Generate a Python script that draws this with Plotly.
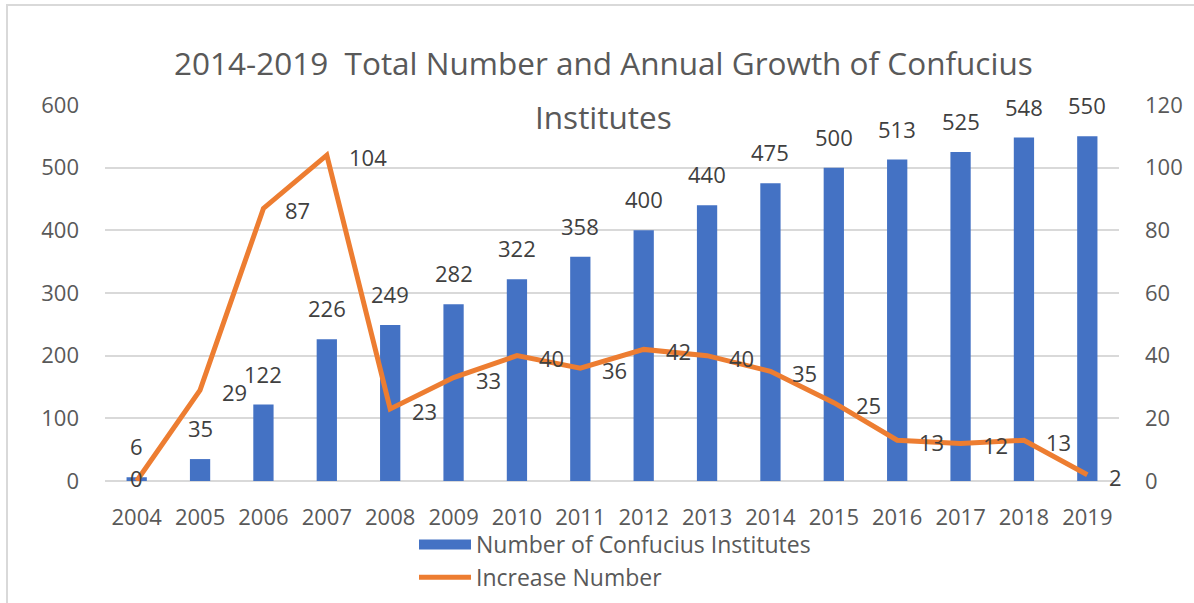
import plotly.graph_objects as go

years = ["2004", "2005", "2006", "2007", "2008", "2009", "2010", "2011",
         "2012", "2013", "2014", "2015", "2016", "2017", "2018", "2019"]
institutes = [6, 35, 122, 226, 249, 282, 322, 358, 400, 440, 475, 500, 513, 525, 548, 550]
increase = [0, 29, 87, 104, 23, 33, 40, 36, 42, 40, 35, 25, 13, 12, 13, 2]

title_line1 = "2014-2019\u00a0 Total Number and Annual Growth of Confucius"
title_line2 = "Institutes"
bar_name = "Number of Confucius Institutes"
line_name = "Increase Number"

BLUE = "#4472C4"
ORANGE = "#ED7D31"
TXT = "#595959"
LBL = "#404040"
FONT = "Open Sans"
FS = 22

W, H = 1194, 603
L, R, T, B = 105, 1194 - 1119, 105, 603 - 481
pw, ph = W - L - R, H - T - B

def px_x(p):
    return (p - L) / pw

def px_y(p):
    return (H - B - p) / ph

idx = list(range(len(years)))

fig = go.Figure()
# legend proxy for the bar series (wide rectangle symbol)
fig.add_trace(go.Scatter(
    x=[None], y=[None], name=bar_name, mode="lines",
    line=dict(color=BLUE, width=14), yaxis="y", hoverinfo="skip",
))
fig.add_trace(go.Bar(
    x=idx, y=institutes, name=bar_name, showlegend=False,
    marker=dict(color=BLUE, line=dict(width=0)), width=0.32,
    yaxis="y",
))
fig.add_trace(go.Scatter(
    x=idx, y=increase, name=line_name, mode="lines",
    line=dict(color=ORANGE, width=5), yaxis="y2",
))

annotations = []
for i, v in zip(idx, institutes):
    annotations.append(dict(
        x=i, y=v, xref="x", yref="y", text=str(v), showarrow=False,
        xanchor="center", yanchor="bottom", yshift=14,
        font=dict(family=FONT, size=FS, color=LBL),
    ))
for i, v in zip(idx, increase):
    if i == 0:
        annotations.append(dict(
            x=i, y=v, xref="x", yref="y2", text=str(v), showarrow=False,
            xanchor="center", yanchor="middle", yshift=3,
            font=dict(family=FONT, size=FS, color=LBL),
        ))
    else:
        annotations.append(dict(
            x=i, y=v, xref="x", yref="y2", text=str(v), showarrow=False,
            xanchor="left", yanchor="middle", xshift=20, yshift=-2,
            font=dict(family=FONT, size=FS, color=LBL),
        ))

annotations.append(dict(
    x=px_x(603), y=px_y(62), xref="paper", yref="paper", text=title_line1,
    showarrow=False, xanchor="center", yanchor="middle",
    font=dict(family=FONT, size=31.5, color=TXT),
))
annotations.append(dict(
    x=px_x(603), y=px_y(116), xref="paper", yref="paper", text=title_line2,
    showarrow=False, xanchor="center", yanchor="middle",
    font=dict(family=FONT, size=31.5, color=TXT),
))

fig.update_layout(
    width=W, height=H,
    margin=dict(l=L, r=R, t=T, b=B, autoexpand=False),
    paper_bgcolor="white", plot_bgcolor="white",
    font=dict(family=FONT, size=FS, color=TXT),
    showlegend=True,
    legend=dict(
        x=px_x(414), y=px_y(523), xanchor="left", yanchor="top",
        orientation="v", font=dict(family=FONT, size=23, color=TXT),
        itemwidth=52, tracegroupgap=0, bgcolor="rgba(0,0,0,0)",
    ),
    xaxis=dict(
        range=[-0.5, 15.5], tickvals=idx, ticktext=years, showgrid=False,
        showline=False, zeroline=False, ticks="", ticklabelstandoff=21,
        tickfont=dict(family=FONT, size=FS, color=TXT),
    ),
    yaxis=dict(
        range=[0, 600], dtick=100, showgrid=True, gridcolor="#D9D9D9",
        gridwidth=1.5, zeroline=True, zerolinecolor="#D9D9D9", zerolinewidth=1.5,
        showline=False, ticks="", ticklabelstandoff=25,
        tickfont=dict(family=FONT, size=FS, color=TXT),
    ),
    yaxis2=dict(
        range=[0, 120], dtick=20, overlaying="y", side="right",
        showgrid=False, zeroline=False, showline=False, ticks="",
        ticklabelstandoff=25,
        tickfont=dict(family=FONT, size=FS, color=TXT),
    ),
    annotations=annotations,
    shapes=[dict(
        type="rect", xref="paper", yref="paper",
        x0=px_x(7), x1=px_x(1210), y0=px_y(5), y1=px_y(620),
        line=dict(color="#D9D9D9", width=2), fillcolor="rgba(0,0,0,0)",
        layer="below",
    )],
)

fig.write_html("out.html", config={"displayModeBar": False},
               post_script="document.body.style.margin='0';")
